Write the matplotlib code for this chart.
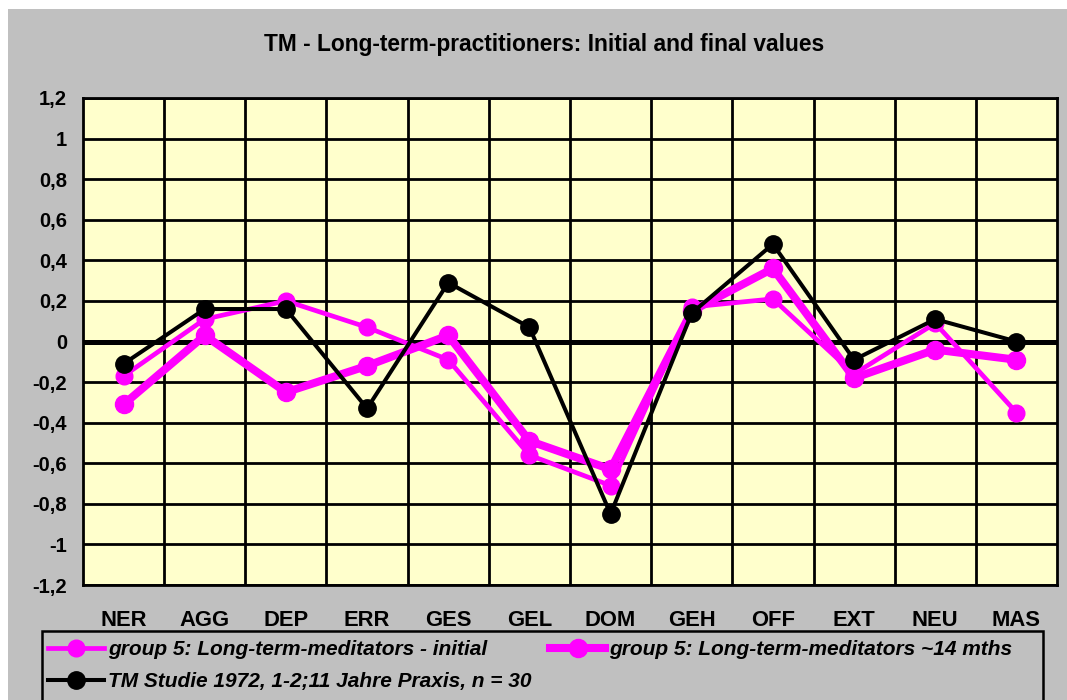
import matplotlib.pyplot as plt
from matplotlib.patches import Rectangle
from matplotlib.ticker import FuncFormatter, MultipleLocator

plt.rcParams['font.family'] = ['Liberation Sans', 'DejaVu Sans']

# scales on the x axis
categories = ['NER', 'AGG', 'DEP', 'ERR', 'GES', 'GEL',
              'DOM', 'GEH', 'OFF', 'EXT', 'NEU', 'MAS']

# values
initial = [-0.17, 0.11, 0.20, 0.07, -0.09, -0.56,
           -0.71, 0.17, 0.21, -0.16, 0.09, -0.35]
after_14m = [-0.31, 0.03, -0.25, -0.12, 0.03, -0.49,
             -0.63, 0.15, 0.36, -0.18, -0.04, -0.09]
tm_1972 = [-0.11, 0.16, 0.16, -0.33, 0.29, 0.07,
           -0.85, 0.14, 0.48, -0.09, 0.11, 0.00]

labels = ['group 5: Long-term-meditators - initial',
          'group 5: Long-term-meditators ~14 mths',
          'TM Studie 1972, 1-2;11 Jahre Praxis, n = 30']

W, H = 1067, 700
fig = plt.figure(figsize=(W / 100, H / 100), dpi=100, facecolor='white')

# grey chart area (thin white strip top and left like the original)
fig.patches.append(Rectangle((8 / W, 0), 1 - 8 / W, 1 - 9 / H,
                             transform=fig.transFigure, facecolor='#C0C0C0',
                             edgecolor='none', zorder=-10))

ax = fig.add_axes([83 / W, 1 - 585 / H, (1057 - 83) / W, (585 - 98) / H])
ax.set_facecolor('#FFFFCC')

x = list(range(len(categories)))
l1, = ax.plot(x, initial, color='#FF00FF', lw=3.4, marker='o', ms=12,
              zorder=3)
l2, = ax.plot(x, after_14m, color='#FF00FF', lw=5.8, marker='o', ms=13,
              zorder=4)
l3, = ax.plot(x, tm_1972, color='black', lw=2.9, marker='o', ms=12.5,
              zorder=5)

ax.set_xlim(-0.5, len(categories) - 0.5)
ax.set_ylim(-1.2, 1.2)
ax.yaxis.set_major_locator(MultipleLocator(0.2))
ax.yaxis.set_major_formatter(FuncFormatter(
    lambda v, p: ('%g' % round(v, 1)).replace('.', ',')))
ax.set_xticks(x)
ax.set_xticklabels(categories)
ax.set_xticks([i + 0.5 for i in x[:-1]], minor=True)
ax.grid(True, which='minor', axis='x', color='black', lw=2)
ax.grid(True, which='major', axis='y', color='black', lw=2)
ax.axhline(0, color='black', lw=3.6, zorder=2)
ax.set_axisbelow(True)
ax.tick_params(which='both', length=0)
ax.tick_params(axis='y', pad=11.5, labelsize=14.5)
ax.tick_params(axis='x', pad=18, labelsize=15.8)
for t in ax.get_xticklabels() + ax.get_yticklabels():
    t.set_fontweight('bold')
for s in ax.spines.values():
    s.set_linewidth(2)
    s.set_color('black')

fig.text(0.51, 1 - 45 / H, 'TM - Long-term-practitioners: Initial and final values',
         ha='center', va='center', fontsize=16.4, fontweight='bold')

# legend box runs past the bottom edge in the original
fig.patches.append(Rectangle((42 / W, -0.05), (1043 - 42) / W,
                             1 - 631 / H + 0.05,
                             transform=fig.transFigure, facecolor='none',
                             edgecolor='black', lw=1.8, zorder=1))
leg = fig.legend([l1, l3, l2], [labels[0], labels[2], labels[1]], ncol=2,
                 loc='upper left', bbox_to_anchor=(40 / W, 1 - 632 / H),
                 frameon=False, handlelength=2.65, handletextpad=0.2,
                 columnspacing=0.9, labelspacing=0.62, borderaxespad=0,
                 prop={'weight': 'bold', 'style': 'italic', 'size': 15})

fig.savefig('out.png', dpi=100, facecolor=fig.get_facecolor())
